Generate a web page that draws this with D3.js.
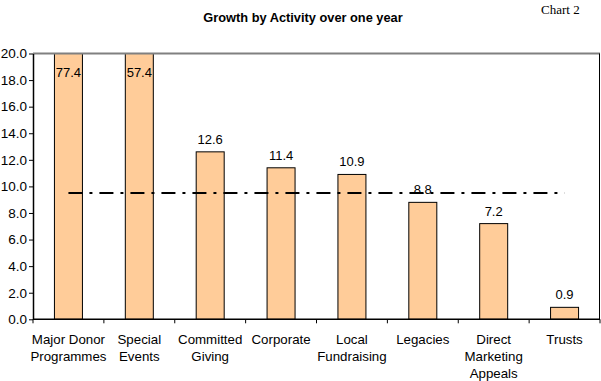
<!DOCTYPE html>
<html><head><meta charset="utf-8">
<script src="https://cdn.jsdelivr.net/npm/d3@7"></script>
<style>body{margin:0;background:#fff;} svg{display:block;} text{font-family:"Liberation Sans",Arial,sans-serif;}</style>
</head><body>
<svg id="c" width="601" height="381"></svg>
<script>
const categories = [["Major Donor","Programmes"],["Special","Events"],["Committed","Giving"],["Corporate"],["Local","Fundraising"],["Legacies"],["Direct","Marketing","Appeals"],["Trusts"]];
const values = [77.4, 57.4, 12.6, 11.4, 10.9, 8.8, 7.2, 0.9];
const average = [9.5, 9.5, 9.5, 9.5, 9.5, 9.5, 9.5, 9.5];
const yTicks = [0,2,4,6,8,10,12,14,16,18,20];
const title = "Growth by Activity over one year";
const note = "Chart 2";

const svg = d3.select("#c");
const L = 33, R = 600, T = 53.5, B = 319.3;
const x = d3.scaleBand().domain(d3.range(values.length)).range([L, R]).paddingInner(0.605).paddingOuter(0.3025);
const y = d3.scaleLinear().domain([0, 20]).range([B, T]);

svg.append("text").attr("x", 303).attr("y", 22).attr("text-anchor","middle")
  .attr("font-weight","bold").attr("font-size", 12.8).text(title);
svg.append("text").attr("x", 541).attr("y", 14).attr("font-size", 13)
  .style("font-family",'"Liberation Serif","Times New Roman",serif').text(note);

// bars
svg.append("g").selectAll("rect").data(values).join("rect")
  .attr("x", (d,i)=>x(i)).attr("width", x.bandwidth())
  .attr("y", d=>y(Math.min(d,20))).attr("height", d=>B - y(Math.min(d,20)))
  .attr("fill","#FFCC99").attr("stroke","#000").attr("stroke-width",1);

// average line
const line = d3.line().x((d,i)=>x(i)+x.bandwidth()/2).y(d=>y(d));
svg.append("path").datum(average).attr("d", line).attr("fill","none")
  .attr("stroke","#000").attr("stroke-width",2).attr("stroke-dasharray","14,7,3,7");

// value labels
svg.append("g").selectAll("text").data(values).join("text")
  .attr("x",(d,i)=>x(i)+x.bandwidth()/2)
  .attr("y", d=> d>20 ? y(20)+23 : y(d)-8)
  .attr("text-anchor","middle").attr("font-size",13).text(d=>d.toFixed(1));

// frame: top gray, right black
svg.append("line").attr("x1",L).attr("x2",R).attr("y1",T).attr("y2",T).attr("stroke","#808080").attr("stroke-width",2);
svg.append("line").attr("x1",R-0.5).attr("x2",R-0.5).attr("y1",T).attr("y2",B).attr("stroke","#000").attr("stroke-width",1);

// y axis
const ya = svg.append("g").attr("transform",`translate(${L},0)`)
  .call(d3.axisLeft(y).tickValues(yTicks).tickSize(4).tickSizeOuter(0).tickPadding(2).tickFormat(d3.format(".1f")));
ya.select(".domain").attr("stroke","#000").attr("stroke-width",1.5);
ya.selectAll("text").attr("font-size",13.5).attr("fill","#000").style("font-family",'"Liberation Sans",Arial,sans-serif');

// x axis
const xa = svg.append("g").attr("transform",`translate(0,${B})`);
xa.append("line").attr("x1",L).attr("x2",R).attr("stroke","#000").attr("stroke-width",1.5);
const step = (R-L)/values.length;
xa.selectAll("line.t").data(d3.range(values.length+1)).join("line").attr("class","t")
  .attr("x1",i=>L+i*step).attr("x2",i=>L+i*step).attr("y1",0).attr("y2",4).attr("stroke","#000");
const lab = svg.append("g").selectAll("text").data(categories).join("text")
  .attr("text-anchor","middle").attr("font-size",13.3);
lab.each(function(lines,i){
  d3.select(this).selectAll("tspan").data(lines).join("tspan")
    .attr("x", x(i)+x.bandwidth()/2).attr("y",(d,j)=>343.5+j*17).text(d=>d);
});
</script>
</body></html>
